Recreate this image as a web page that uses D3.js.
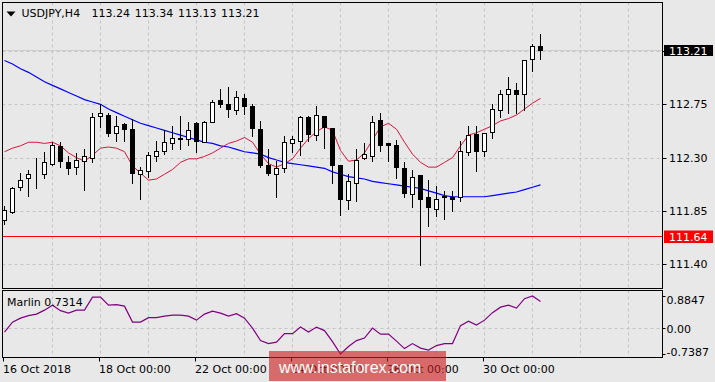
<!DOCTYPE html>
<html><head><meta charset="utf-8">
<script src="https://cdn.jsdelivr.net/npm/d3@7"></script>
<style>
html,body{margin:0;padding:0;background:#e8e8e8;overflow:hidden}
svg{display:block}
text{font-family:"DejaVu Sans",sans-serif;font-size:11px;fill:#000}
</style></head><body>
<svg id="c" width="715" height="382"></svg>
<script>
// ---------- DATA ----------
const symbol = "USDJPY,H4";
const lastOHLC = ["113.24", "113.34", "113.13", "113.21"];
const days = ["16 Oct","17 Oct","18 Oct","19 Oct","22 Oct","23 Oct","24 Oct","25 Oct","26 Oct","29 Oct","30 Oct","31 Oct"];
const hours = ["00:00","04:00","08:00","12:00","16:00","20:00"];
const categories = days.flatMap(d => hours.map(h => d + " " + h)).slice(0, 68);

const open = [111.77,111.84,112.05,112.13,112.17,112.16,112.25,112.40,112.26,112.22,
112.27,112.30,112.65,112.66,112.51,112.58,112.54,112.16,112.19,112.31,
112.36,112.42,112.46,112.46,112.59,112.43,112.60,112.79,112.75,112.70,
112.80,112.74,112.54,112.24,112.16,112.21,112.42,112.44,112.64,112.49,
112.65,112.55,112.24,111.94,112.09,112.30,112.31,112.62,112.42,112.41,
112.21,111.99,112.15,111.97,111.87,111.98,111.97,111.97,112.35,112.50,
112.36,112.52,112.70,112.84,112.87,112.84,113.13,113.24];
const high = [111.89,112.05,112.17,112.20,112.30,112.35,112.43,112.43,112.31,112.34,
112.37,112.68,112.75,112.68,112.65,112.59,112.63,112.22,112.35,112.44,
112.53,112.57,112.65,112.60,112.60,112.61,112.79,112.88,112.90,112.86,
112.84,112.75,112.61,112.37,112.27,112.48,112.48,112.65,112.65,112.74,
112.65,112.55,112.24,112.16,112.37,112.42,112.65,112.68,112.42,112.45,
112.26,112.20,112.15,112.11,112.06,112.02,112.02,112.44,112.57,112.57,
112.51,112.75,112.87,112.98,112.93,113.12,113.26,113.34];
const low = [111.74,111.83,112.03,111.98,112.04,112.13,112.24,112.22,112.16,112.16,
112.03,112.26,112.56,112.48,112.44,112.44,112.09,111.95,112.14,112.27,
112.33,112.37,112.37,112.41,112.35,112.43,112.60,112.73,112.64,112.67,
112.67,112.48,112.22,112.15,111.97,112.18,112.35,112.32,112.44,112.45,
112.38,112.09,111.82,111.87,111.93,112.29,112.27,112.36,112.27,112.13,
111.97,111.88,111.39,111.72,111.81,111.78,111.85,111.93,112.32,112.19,
112.31,112.47,112.64,112.68,112.68,112.70,113.03,113.13];
const close = [111.86,112.04,112.11,112.16,112.17,112.26,112.41,112.27,112.21,112.28,
112.31,112.64,112.68,112.51,112.57,112.54,112.17,112.20,112.32,112.36,
112.43,112.47,112.47,112.53,112.44,112.60,112.77,112.75,112.71,112.81,
112.74,112.55,112.24,112.17,112.21,112.43,112.46,112.64,112.50,112.66,
112.56,112.24,111.95,112.10,112.28,112.33,112.60,112.41,112.41,112.22,
112.00,112.14,111.95,111.88,111.95,111.97,111.95,112.36,112.49,112.36,
112.51,112.71,112.84,112.88,112.84,113.12,113.24,113.21];

const maSlow = [113.12,113.09,113.05,113.02,112.98,112.94,112.91,112.88,112.85,112.82,
112.79,112.77,112.75,112.71,112.68,112.65,112.62,112.59,112.57,112.55,
112.53,112.51,112.49,112.47,112.45,112.43,112.42,112.40,112.39,112.37,
112.35,112.34,112.33,112.30,112.28,112.26,112.25,112.24,112.23,112.22,
112.21,112.18,112.16,112.14,112.13,112.12,112.10,112.09,112.08,112.07,
112.06,112.05,112.04,112.02,112.00,111.98,111.97,111.97,111.97,111.97,
111.97,111.98,111.99,112.00,112.01,112.03,112.05,112.07];
const maFast = [112.35,112.38,112.40,112.43,112.43,112.42,112.43,112.40,112.34,112.30,
112.27,112.32,112.38,112.39,112.38,112.35,112.23,112.17,112.11,112.12,
112.16,112.20,112.26,112.29,112.29,112.31,112.34,112.38,112.42,112.44,
112.47,112.43,112.33,112.25,112.22,112.25,112.29,112.38,112.46,112.52,
112.56,112.53,112.36,112.27,112.28,112.34,112.45,112.56,112.59,112.54,
112.43,112.33,112.26,112.22,112.22,112.26,112.30,112.40,112.49,112.51,
112.54,112.57,112.61,112.63,112.66,112.71,112.76,112.80];
const marlin = [-0.126,0.154,0.265,0.335,0.377,0.489,0.628,0.475,0.405,0.489,
0.489,0.852,0.852,0.628,0.642,0.601,0.154,0.154,0.279,0.279,
0.321,0.349,0.349,0.321,0.209,0.377,0.461,0.405,0.321,0.391,
0.265,-0.014,-0.363,-0.447,-0.405,-0.168,-0.168,0.014,-0.126,0.014,
-0.084,-0.391,-0.7387,-0.531,-0.363,-0.293,-0.014,-0.182,-0.182,-0.377,
-0.587,-0.447,-0.573,-0.628,-0.503,-0.447,-0.447,0.056,0.182,0.070,
0.209,0.419,0.573,0.628,0.545,0.810,0.8847,0.7314];

const levelLine = 111.64;
const bidPrice = 113.21;
const priceTicks = [111.40, 111.85, 112.30, 112.75, 113.20];
const marlinTicks = [0.8847, 0.00, -0.7387];
const marlinTickLabels = ["0.8847", "0.00", "-0.7387"];
const timeTickIdx = [0, 12, 24, 36, 48, 60];
const timeTickLabels = ["16 Oct 2018", "18 Oct 00:00", "22 Oct 00:00", "24 Oct 00:00", "26 Oct 00:00", "30 Oct 00:00"];
const indicatorName = "Marlin";
const watermark = "www.instaforex.com";

// ---------- LAYOUT ----------
const W = 715, H = 382;
const L = 2.5, R = 662.5, T = 2.5, B = 288.5, IT = 290.5, IB = 357.5;
const gridColor = "#c4c4c4";
const svg = d3.select("#c");

const x = d3.scaleLinear().domain([0, 82]).range([4, 660]);
const y = d3.scaleLinear().domain([111.40, 113.20]).range([264.3, 51]);
const ym = d3.scaleLinear().domain([-0.7387, 0.8847]).range([354, 296]);
const px = v => Math.round(v) + 0.5;

svg.append("rect").attr("width", W).attr("height", H).attr("fill", "#e8e8e8");

const defs = svg.append("defs");
defs.append("clipPath").attr("id", "cm").append("rect")
  .attr("x", L + 0.5).attr("y", T + 0.5).attr("width", R - L - 1).attr("height", B - T - 1);
defs.append("clipPath").attr("id", "ci").append("rect")
  .attr("x", L + 0.5).attr("y", IT + 0.5).attr("width", R - L - 1).attr("height", IB - IT - 1);

// ---------- MAIN PANEL ----------
const gm = svg.append("g").attr("clip-path", "url(#cm)");
const vgrid = d3.range(6, 82, 6);
gm.selectAll("line.vg").data(vgrid).join("line")
  .attr("x1", d => x(d) + 0.5).attr("x2", d => x(d) + 0.5)
  .attr("y1", T).attr("y2", B)
  .attr("stroke", gridColor).attr("stroke-dasharray", "3,3");
gm.selectAll("line.hg").data(priceTicks).join("line")
  .attr("x1", L).attr("x2", R)
  .attr("y1", d => px(y(d))).attr("y2", d => px(y(d)))
  .attr("stroke", gridColor).attr("stroke-dasharray", "3,3");

// bid line
gm.append("line").attr("x1", L).attr("x2", R)
  .attr("y1", px(y(bidPrice)) ).attr("y2", px(y(bidPrice)))
  .attr("stroke", "#cfcfcf");

// level line
gm.append("line").attr("x1", L).attr("x2", R)
  .attr("y1", px(y(levelLine))).attr("y2", px(y(levelLine)))
  .attr("stroke", "#ff0000");

// moving averages
const mline = d3.line().x((d, i) => x(i) + 0.5).y(d => y(d));
gm.append("path").datum(maSlow).attr("d", mline)
  .attr("fill", "none").attr("stroke", "#0000ff").attr("stroke-width", 1.2);
gm.append("path").datum(maFast).attr("d", mline)
  .attr("fill", "none").attr("stroke", "#dc143c").attr("stroke-width", 1);

// candles
const idx = d3.range(open.length);
gm.selectAll("line.wick").data(idx).join("line")
  .attr("x1", i => x(i) + 0.5).attr("x2", i => x(i) + 0.5)
  .attr("y1", i => Math.round(y(high[i]))).attr("y2", i => Math.round(y(low[i])) + 1)
  .attr("stroke", "#000").attr("stroke-width", 1);
gm.selectAll("rect.body").data(idx).join("rect")
  .attr("x", i => x(i) - 1.5).attr("width", 4)
  .attr("y", i => px(y(Math.max(open[i], close[i]))))
  .attr("height", i => Math.max(0, Math.round(y(Math.min(open[i], close[i]))) - Math.round(y(Math.max(open[i], close[i])))))
  .attr("fill", i => close[i] >= open[i] ? "#ffffff" : "#000000")
  .attr("stroke", "#000").attr("stroke-width", 1);

svg.append("rect").attr("x", L).attr("y", T).attr("width", R - L).attr("height", B - T)
  .attr("fill", "none").attr("stroke", "#000");

// price axis
const ay = svg.append("g").attr("transform", `translate(${R},0)`)
  .call(d3.axisRight(y).tickValues(priceTicks).tickSize(4).tickFormat(d3.format(".2f")));
ay.select(".domain").remove();
ay.selectAll(".tick").attr("transform", d => `translate(0,${px(y(d))})`);
ay.selectAll(".tick line").attr("stroke", "#000");
ay.selectAll(".tick text").attr("x", 6.5).attr("dy", "0.36em")
  .style("font-family", '"DejaVu Sans",sans-serif').style("font-size", "11px").attr("fill", "#000");

// bid label
const by = px(y(bidPrice));
svg.append("rect").attr("x", 664).attr("y", by - 5.5).attr("width", 49).attr("height", 11).attr("fill", "#000");
svg.append("text").attr("x", 669).attr("y", by + 4.5).attr("fill", "#fff").style("fill", "#fff").text(d3.format(".2f")(bidPrice));
// level label
const ly = px(y(levelLine));
svg.append("rect").attr("x", 664).attr("y", ly - 6).attr("width", 49).attr("height", 12.5).attr("fill", "#ff0000");
svg.append("text").attr("x", 669).attr("y", ly + 4.5).style("fill", "#fff").text(d3.format(".2f")(levelLine));

// title
svg.append("path").attr("d", "M6.5,11.5 L15.5,11.5 L11,16.5 Z").attr("fill", "#000");
const title = svg.append("text").attr("y", 17);
title.append("tspan").attr("x", 21.5).text(symbol);
lastOHLC.forEach((v, k) => title.append("tspan").attr("x", 91.5 + k * 43.2).text(v));

// ---------- INDICATOR PANEL ----------
const gi = svg.append("g").attr("clip-path", "url(#ci)");
gi.selectAll("line.vg").data(vgrid).join("line")
  .attr("x1", d => x(d) + 0.5).attr("x2", d => x(d) + 0.5)
  .attr("y1", IT).attr("y2", IB)
  .attr("stroke", gridColor).attr("stroke-dasharray", "3,3");
gi.append("line").attr("x1", L).attr("x2", R)
  .attr("y1", px(ym(0))).attr("y2", px(ym(0)))
  .attr("stroke", gridColor).attr("stroke-dasharray", "3,3");
gi.append("path").datum(marlin)
  .attr("d", d3.line().x((d, i) => x(i) + 0.5).y(d => ym(d)))
  .attr("fill", "none").attr("stroke", "#800080").attr("stroke-width", 1.2);

svg.append("rect").attr("x", L).attr("y", IT).attr("width", R - L).attr("height", IB - IT)
  .attr("fill", "none").attr("stroke", "#000");

svg.append("text").attr("x", 7).attr("y", 306)
  .text(indicatorName + " " + marlin[marlin.length - 1].toFixed(4));

marlinTicks.forEach((v, k) => {
  const ty = px(ym(v));
  const base = Math.min(Math.max(ty + 4, 304), 355.5);
  svg.append("line").attr("x1", R).attr("x2", R + 3).attr("y1", Math.min(Math.max(ty, IT), IB)).attr("y2", Math.min(Math.max(ty, IT), IB)).attr("stroke", "#000");
  svg.append("text").attr("x", 666.5).attr("y", base).text(marlinTickLabels[k]);
});

// ---------- TIME AXIS ----------
const ax = svg.append("g").attr("transform", `translate(0,${IB})`)
  .call(d3.axisBottom(x).tickValues(timeTickIdx).tickSize(4).tickFormat((d, k) => timeTickLabels[k]));
ax.select(".domain").remove();
ax.selectAll(".tick").attr("transform", d => `translate(${x(d) - 0.5},0)`);
ax.selectAll(".tick line").attr("stroke", "#000");
ax.selectAll(".tick text").attr("text-anchor", "start").attr("x", -0.5).attr("y", 15.5).attr("dy", null)
  .style("font-family", '"DejaVu Sans",sans-serif').style("font-size", "11px").attr("fill", "#000");

// ---------- WATERMARK ----------
svg.append("rect").attr("x", 269).attr("y", 351).attr("width", 177).attr("height", 30)
  .attr("fill", "rgba(205,30,30,0.62)");
svg.append("text").attr("x", 279).attr("y", 373)
  .style("font-family", '"Liberation Sans",Arial,sans-serif').style("font-size", "16px").style("fill", "#fff")
  .text(watermark);
</script>
</body></html>
